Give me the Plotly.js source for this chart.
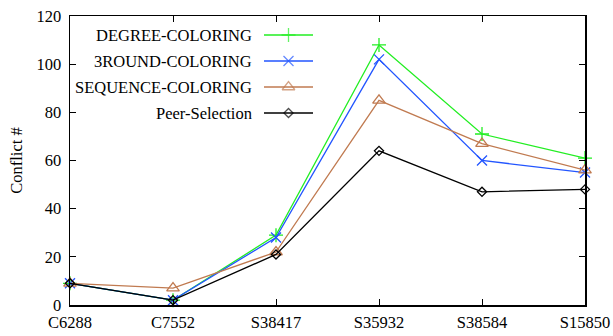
<!DOCTYPE html>
<html><head><meta charset="utf-8">
<script src="https://cdn.plot.ly/plotly-3.0.1.min.js"></script>
<style>body{margin:0;padding:0;background:#fff}#chart{width:613px;height:336px}</style>
</head><body><div id="chart"></div>
<script>
const categories = ["C6288", "C7552", "S38417", "S35932", "S38584", "S15850"];
const seriesNames = ["DEGREE-COLORING", "3ROUND-COLORING", "SEQUENCE-COLORING", "Peer-Selection"];
const degreeColoring = [9, 2, 29, 108, 71, 61];
const round3Coloring = [9, 2, 28, 102, 60, 55];
const sequenceColoring = [9, 7, 22, 85, 67, 56];
const peerSelection = [9, 2, 21, 64, 47, 48];
const yTicks = [0, 20, 40, 60, 80, 100, 120];

const seriesValues = [degreeColoring, round3Coloring, sequenceColoring, peerSelection];
const colors = ["#22ee22", "#2255ff", "#c07a50", "#000000"];
const symbols = ["cross-thin-open", "x-thin-open", "triangle-up-open", "diamond-open"];
const sizes = [10, 10, 11, 7];

const FONT = "Liberation Serif";
const FS = 16.5;
const traces = [];
seriesValues.forEach((vals, i) => {
  traces.push({
    x: categories, y: vals, type: "scatter", mode: "lines+markers",
    name: seriesNames[i], showlegend: false,
    line: {color: colors[i], width: 1.3},
    marker: {symbol: symbols[i], size: sizes[i], color: colors[i], line: {color: colors[i], width: 1.3}},
    cliponaxis: false
  });
});

// custom legend (symbol to the right of the label, gnuplot style)
const legendRowsY = [270, 244, 218, 192];
const annotations = [];
seriesNames.forEach((n, i) => {
  traces.push({
    x: [194, 218.5, 243], y: [legendRowsY[i], legendRowsY[i], legendRowsY[i]],
    xaxis: "x2", yaxis: "y2", type: "scatter", mode: "lines+markers", showlegend: false,
    hoverinfo: "skip",
    line: {color: colors[i], width: 1.3},
    marker: {symbol: symbols[i], size: [0, sizes[i], 0], color: colors[i], line: {color: colors[i], width: 1.3}}
  });
  annotations.push({
    xref: "paper", yref: "paper", x: 184 / 515, y: legendRowsY[i] / 289,
    xanchor: "right", yanchor: "middle", text: n, showarrow: false,
    font: {family: FONT, size: FS, color: "#000"}
  });
});

const layout = {
  width: 613, height: 336,
  margin: {l: 70, r: 28, t: 16, b: 31},
  paper_bgcolor: "#fff", plot_bgcolor: "#fff",
  font: {family: FONT, size: FS, color: "#000"},
  showlegend: false,
  xaxis: {
    type: "category", range: [0, 5], showgrid: false, zeroline: false,
    showline: true, mirror: "ticks", linecolor: "#000", linewidth: 1.5,
    ticks: "inside", ticklen: 6, tickcolor: "#000", tickwidth: 1,
    ticklabelstandoff: 2,
    tickfont: {family: FONT, size: FS, color: "#000"}
  },
  yaxis: {
    range: [0, 120], tickvals: yTicks, showgrid: false, zeroline: false,
    showline: true, mirror: "ticks", linecolor: "#000", linewidth: 1.5,
    ticks: "inside", ticklen: 6, tickcolor: "#000", tickwidth: 1,
    ticklabelstandoff: 4,
    tickfont: {family: FONT, size: FS, color: "#000"},
    title: {text: "Conflict #", font: {family: FONT, size: FS, color: "#000"}, standoff: 9}
  },
  xaxis2: {overlaying: "x", range: [0, 515], visible: false, fixedrange: true},
  yaxis2: {overlaying: "y", range: [0, 289], visible: false, fixedrange: true},
  annotations: annotations
};
Plotly.newPlot("chart", traces, layout, {displayModeBar: false, staticPlot: true});
</script></body></html>
